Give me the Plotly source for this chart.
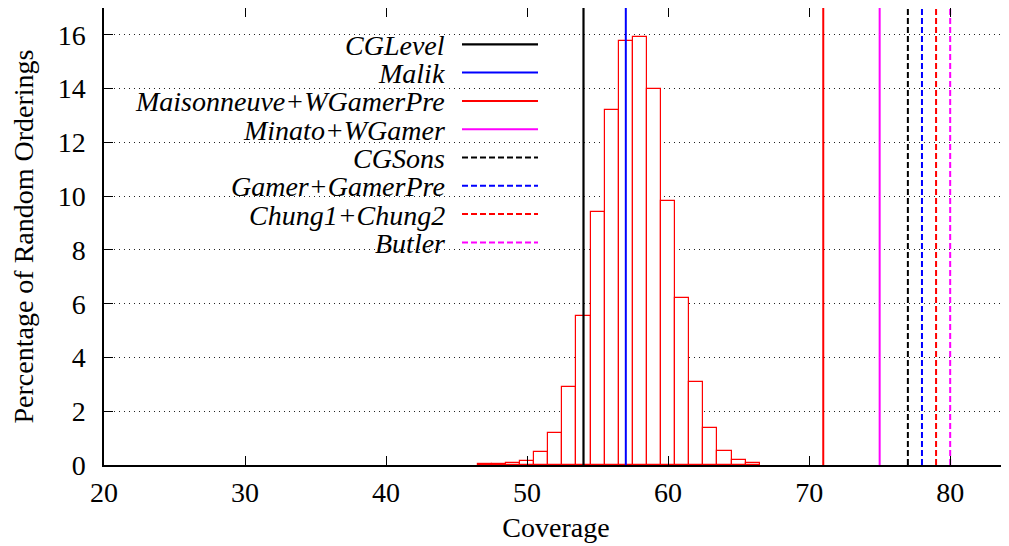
import plotly.graph_objects as go

# ---------------- data ----------------
coverage_bins = [47, 48, 49, 50, 51, 52, 53, 54, 55, 56, 57, 58, 59, 60, 61, 62, 63, 64, 65, 66]
pct_orderings = [0.02, 0.04, 0.06, 0.16, 0.49, 1.18, 2.90, 5.55, 9.41, 13.21, 15.77, 15.94,
                 14.00, 9.82, 6.21, 3.09, 1.36, 0.52, 0.20, 0.06]

method_names = ["CGLevel", "Malik", "Maisonneuve+WGamerPre", "Minato+WGamer",
                "CGSons", "Gamer+GamerPre", "Chung1+Chung2", "Butler"]
method_coverage = [54.0, 57.0, 71.0, 75.0, 77.0, 78.0, 79.0, 80.0]
method_colors = ["#000000", "#0000ff", "#ff0000", "#ff00ff",
                 "#000000", "#0000ff", "#ff0000", "#ff00ff"]
method_dash = ["solid", "solid", "solid", "solid",
               "6px,3px", "6px,3px", "6px,3px", "6px,3px"]
method_width = [2.2, 2, 2, 2, 2, 2, 2, 2]

x_ticks = [20, 30, 40, 50, 60, 70, 80]
y_ticks = [0, 2, 4, 6, 8, 10, 12, 14, 16]
X_RANGE = [20, 84.1]
Y_RANGE = [0, 17]

# ---------------- layout constants ----------------
OFF = 8                      # default page body margin of the html page
W, H = 1009 - OFF, 546 - OFF
ML, MR, MT, MB = 96, 1, 0, 81
PW, PH = W - ML - MR, H - MT - MB
FONT = "Liberation Serif, Times New Roman, Times, serif"
FS = 28


def px_x(p):
    """page pixel x -> paper coordinate"""
    return (p - OFF - ML) / PW


def px_y(p):
    """page pixel y -> paper coordinate"""
    return 1 - (p - OFF - MT) / PH


fig = go.Figure()

fig.add_trace(go.Bar(
    x=coverage_bins, y=pct_orderings, width=1,
    marker=dict(color="white", line=dict(color="#ff0000", width=1.2)),
    showlegend=False, hoverinfo="x+y",
))

for name, v, c, d, w in zip(method_names, method_coverage, method_colors, method_dash, method_width):
    fig.add_trace(go.Scatter(
        x=[v, v], y=Y_RANGE, mode="lines", name=name,
        line=dict(color=c, dash=d, width=w), showlegend=False,
    ))

# custom gnuplot-style key: text right-aligned, sample line on the right
shapes = [dict(type="rect", xref="paper", yref="paper",
               x0=px_x(119), x1=px_x(556), y0=px_y(262), y1=px_y(22),
               fillcolor="white", line=dict(width=0), layer="between")]
annotations = []
row0, row_step = 44.3, 28.3
for i, (name, c, d, w) in enumerate(zip(method_names, method_colors, method_dash, method_width)):
    yy = row0 + i * row_step
    annotations.append(dict(
        xref="paper", yref="paper", x=px_x(447), y=px_y(yy + 1),
        xanchor="right", yanchor="middle", showarrow=False,
        text="<i>" + name + "</i>", font=dict(family=FONT, size=FS, color="black"),
    ))
    shapes.append(dict(type="line", xref="paper", yref="paper",
                       x0=px_x(462), x1=px_x(538), y0=px_y(yy), y1=px_y(yy),
                       line=dict(color=c, dash=d, width=w), layer="above"))

fig.update_layout(
    width=W, height=H, autosize=False,
    margin=dict(l=ML, r=MR, t=MT, b=MB, autoexpand=False),
    paper_bgcolor="white", plot_bgcolor="white",
    font=dict(family=FONT, size=FS, color="black"),
    bargap=0, showlegend=False,
    shapes=shapes, annotations=annotations,
)

fig.update_xaxes(
    range=X_RANGE, tickvals=x_ticks, ticktext=[str(t) for t in x_ticks],
    ticks="inside", ticklen=9, tickwidth=1.2, tickcolor="black",
    showline=True, linecolor="black", linewidth=1.5, mirror="allticks",
    showgrid=False, zeroline=False, automargin=False, ticklabelstandoff=2,
    tickfont=dict(family=FONT, size=FS, color="black"),
    title=dict(text="Coverage", font=dict(family=FONT, size=FS), standoff=10),
)
fig.update_yaxes(
    range=Y_RANGE, tickvals=y_ticks, ticktext=[str(t) for t in y_ticks],
    ticks="inside", ticklen=9, tickwidth=1.2, tickcolor="black",
    showline=True, linecolor="black", linewidth=1.5, mirror=False,
    showgrid=True, gridcolor="#222222", gridwidth=1, griddash="1px,4px",
    zeroline=False, ticklabelstandoff=11, automargin=False,
    tickfont=dict(family=FONT, size=FS, color="black"),
    title=dict(text="Percentage of Random Orderings", font=dict(family=FONT, size=FS), standoff=21),
)

fig.write_html("out.html")
